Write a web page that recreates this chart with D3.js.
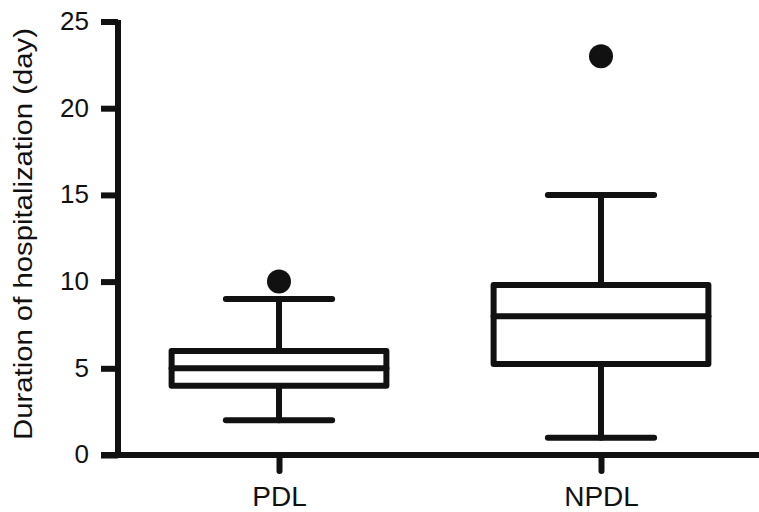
<!DOCTYPE html>
<meta charset="utf-8">
<head>
  <script src="https://cdn.jsdelivr.net/npm/d3@7/dist/d3.min.js"></script>
  <style>
    body { margin: 0; background: #fff; }
    text { font-family: "Liberation Sans", Arial, sans-serif; fill: #111; }
  </style>
</head>
<body>
<script>
// datos
var grupos = ["PDL", "NPDL"];
var bigoteMin = [2, 1];
var cuartil1 = [4, 5.25];
var mediana = [5, 8];
var cuartil3 = [6, 9.8];
var bigoteMax = [9, 15];
var atipicos = [[10], [23]];
var ticksY = [0, 5, 10, 15, 20, 25];

var w = 759, h = 512;
var ejeX0 = 118, ejeY0 = 455;

var svg = d3.select("body").append("svg")
    .attr("width", w)
    .attr("height", h);

var x = d3.scalePoint().domain(grupos).range([ejeX0, 762]).padding(0.5);
var y = d3.scaleLinear().domain([0, 25]).range([ejeY0, 21.5]);
var paso = x.step();
var anchoCaja = paso * 0.667;
var anchoTope = paso * 0.33;

var datos = grupos.map(function(g, i) {
  return { g: g, lo: bigoteMin[i], q1: cuartil1[i], med: mediana[i],
           q3: cuartil3[i], hi: bigoteMax[i], out: atipicos[i] };
});

var sw = 6;

// eje y
var ejeY = svg.append("g")
    .attr("transform", "translate(" + ejeX0 + ",0)")
    .call(d3.axisLeft(y).tickValues(ticksY).tickSize(17).tickSizeOuter(0).tickPadding(12));
ejeY.selectAll("path, line").attr("stroke", "#111").attr("stroke-width", sw);
ejeY.select(".domain").attr("d", "M0," + (y(25) - 1.5) + "V" + ejeY0);
ejeY.selectAll("text").attr("font-size", 26).attr("dy", "0.3em").attr("fill", "#111");

// eje x
var ejeX = svg.append("g")
    .attr("transform", "translate(0," + ejeY0 + ")")
    .call(d3.axisBottom(x).tickSize(16).tickSizeOuter(0));
ejeX.selectAll("path, line").attr("stroke", "#111").attr("stroke-width", sw);
ejeX.selectAll("line").attr("stroke-linecap", "round");
ejeX.select(".domain").attr("d", "M101,0H" + w);
ejeX.selectAll("text").attr("font-size", 28).attr("y", 51).attr("dy", 0).attr("fill", "#111");

// titulo eje y
svg.append("text")
    .attr("transform", "translate(32," + 234 + ") rotate(-90)")
    .attr("text-anchor", "middle")
    .attr("font-size", 25)
    .attr("textLength", 412)
    .attr("lengthAdjust", "spacingAndGlyphs")
    .text("Duration of hospitalization (day)");

// cajas
var cajas = svg.selectAll(".caja")
    .data(datos)
    .enter()
    .append("g")
    .attr("class", "caja")
    .attr("stroke", "#111")
    .attr("stroke-width", sw)
    .attr("fill", "none")
    .attr("stroke-linecap", "round")
    .attr("stroke-linejoin", "round");

// bigotes
cajas.append("line")
    .attr("x1", function(d) { return x(d.g); })
    .attr("x2", function(d) { return x(d.g); })
    .attr("y1", function(d) { return y(d.hi); })
    .attr("y2", function(d) { return y(d.q3); });
cajas.append("line")
    .attr("x1", function(d) { return x(d.g); })
    .attr("x2", function(d) { return x(d.g); })
    .attr("y1", function(d) { return y(d.q1); })
    .attr("y2", function(d) { return y(d.lo); });

// topes
["hi", "lo"].forEach(function(k) {
  cajas.append("line")
      .attr("x1", function(d) { return x(d.g) - anchoTope / 2; })
      .attr("x2", function(d) { return x(d.g) + anchoTope / 2; })
      .attr("y1", function(d) { return y(d[k]); })
      .attr("y2", function(d) { return y(d[k]); });
});

cajas.append("rect")
    .attr("x", function(d) { return x(d.g) - anchoCaja / 2; })
    .attr("width", anchoCaja)
    .attr("y", function(d) { return y(d.q3); })
    .attr("height", function(d) { return y(d.q1) - y(d.q3); })
    .attr("fill", "#fff");

cajas.append("line")
    .attr("x1", function(d) { return x(d.g) - anchoCaja / 2; })
    .attr("x2", function(d) { return x(d.g) + anchoCaja / 2; })
    .attr("y1", function(d) { return y(d.med); })
    .attr("y2", function(d) { return y(d.med); });

// atipicos
cajas.selectAll("circle")
    .data(function(d) { return d.out.map(function(v) { return { g: d.g, v: v }; }); })
    .enter()
    .append("circle")
    .attr("cx", function(d) { return x(d.g); })
    .attr("cy", function(d) { return y(d.v); })
    .attr("r", 12)
    .attr("stroke", "none")
    .attr("fill", "#111");
</script>
</body>
